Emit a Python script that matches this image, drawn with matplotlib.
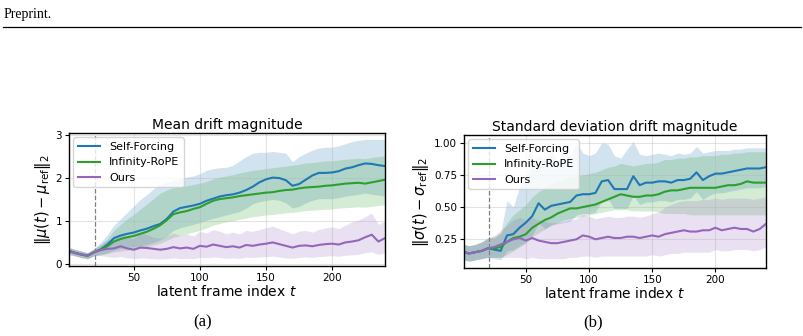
"""Mean / std drift magnitude over latent frames, two panels with caption letters."""
import numpy as np
import matplotlib
matplotlib.use("Agg")
import matplotlib.pyplot as plt
from matplotlib.lines import Line2D

# frame index samples
T = [1, 5, 10, 15, 20, 25, 30, 35, 40, 45, 50, 55, 60, 65, 70, 75, 80, 85, 90, 95,
     100, 105, 110, 115, 120, 125, 130, 135, 140, 145, 150, 155, 160, 165, 170, 175,
     180, 185, 190, 195, 200, 205, 210, 215, 220, 225, 230, 235, 240]
METHODS = ["Self-Forcing", "Infinity-RoPE", "Ours"]
COLORS = ["#1f77b4", "#2ca02c", "#9467bd"]

# panel (a): mean drift
mean_sf = [0.30, 0.26, 0.22, 0.19, 0.27, 0.34, 0.45, 0.60, 0.66, 0.70, 0.73, 0.78, 0.82, 0.88, 0.93, 1.05,
           1.22, 1.30, 1.33, 1.36, 1.40, 1.47, 1.52, 1.57, 1.60, 1.62, 1.66, 1.72, 1.80, 1.90, 1.97, 2.01,
           2.00, 1.95, 1.82, 1.86, 1.96, 2.06, 2.12, 2.12, 2.13, 2.16, 2.22, 2.25, 2.30, 2.34, 2.33, 2.30, 2.28]
mean_sf_hi = [0.38, 0.34, 0.30, 0.26, 0.36, 0.50, 0.68, 0.90, 1.05, 1.20, 1.35, 1.50, 1.62, 1.75, 1.85, 1.90,
              1.95, 1.98, 2.02, 2.05, 2.10, 2.18, 2.22, 2.24, 2.25, 2.30, 2.40, 2.50, 2.58, 2.60, 2.60, 2.62,
              2.60, 2.58, 2.38, 2.50, 2.58, 2.65, 2.70, 2.72, 2.72, 2.75, 2.80, 2.85, 2.88, 2.90, 2.90, 2.90, 2.90]
mean_sf_lo = [0.22, 0.19, 0.15, 0.12, 0.19, 0.22, 0.26, 0.32, 0.36, 0.38, 0.40, 0.42, 0.45, 0.50, 0.56, 0.65,
              0.78, 0.84, 0.88, 0.92, 0.96, 1.02, 1.06, 1.10, 1.14, 1.18, 1.22, 1.30, 1.40, 1.45, 1.48, 1.50,
              1.48, 1.42, 1.30, 1.34, 1.42, 1.48, 1.52, 1.52, 1.52, 1.54, 1.58, 1.60, 1.62, 1.65, 1.62, 1.60, 1.58]
mean_ir = [0.30, 0.26, 0.22, 0.19, 0.27, 0.33, 0.41, 0.52, 0.58, 0.62, 0.65, 0.70, 0.75, 0.82, 0.90, 1.02,
           1.16, 1.20, 1.23, 1.28, 1.32, 1.40, 1.47, 1.51, 1.53, 1.55, 1.58, 1.60, 1.62, 1.64, 1.66, 1.67,
           1.70, 1.72, 1.73, 1.76, 1.78, 1.79, 1.80, 1.82, 1.83, 1.85, 1.87, 1.88, 1.89, 1.87, 1.90, 1.93, 1.96]
mean_ir_hi = [0.38, 0.34, 0.30, 0.26, 0.35, 0.45, 0.58, 0.78, 0.92, 1.05, 1.15, 1.28, 1.40, 1.52, 1.65, 1.72,
              1.78, 1.80, 1.82, 1.85, 1.88, 1.92, 1.98, 2.02, 2.05, 2.08, 2.12, 2.15, 2.18, 2.20, 2.22, 2.24,
              2.26, 2.28, 2.30, 2.32, 2.35, 2.36, 2.38, 2.40, 2.40, 2.42, 2.44, 2.45, 2.46, 2.45, 2.48, 2.50, 2.52]
mean_ir_lo = [0.22, 0.19, 0.15, 0.12, 0.19, 0.21, 0.24, 0.28, 0.30, 0.32, 0.33, 0.36, 0.40, 0.44, 0.48, 0.55,
              0.62, 0.66, 0.70, 0.74, 0.78, 0.84, 0.90, 0.94, 0.98, 1.00, 1.04, 1.07, 1.10, 1.12, 1.14, 1.15,
              1.17, 1.19, 1.20, 1.22, 1.24, 1.25, 1.26, 1.27, 1.28, 1.30, 1.31, 1.32, 1.33, 1.32, 1.34, 1.36, 1.38]
mean_ours = [0.30, 0.26, 0.22, 0.19, 0.27, 0.32, 0.35, 0.36, 0.41, 0.36, 0.33, 0.38, 0.37, 0.35, 0.33, 0.35,
             0.39, 0.36, 0.38, 0.35, 0.42, 0.40, 0.45, 0.42, 0.39, 0.41, 0.38, 0.44, 0.42, 0.45, 0.47, 0.50,
             0.46, 0.42, 0.38, 0.42, 0.43, 0.41, 0.44, 0.46, 0.47, 0.45, 0.50, 0.52, 0.55, 0.62, 0.68, 0.52, 0.60]
mean_ours_hi = [0.38, 0.34, 0.30, 0.26, 0.35, 0.45, 0.55, 0.60, 0.70, 0.62, 0.58, 0.72, 0.68, 0.62, 0.60, 0.65,
                0.72, 0.66, 0.70, 0.65, 0.76, 0.72, 0.80, 0.76, 0.70, 0.74, 0.70, 0.78, 0.76, 0.80, 0.84, 0.88,
                0.82, 0.76, 0.70, 0.76, 0.78, 0.74, 0.80, 0.84, 0.86, 0.82, 0.90, 0.98, 1.02, 1.10, 1.18, 0.92, 1.00]
mean_ours_lo = [0.22, 0.19, 0.15, 0.12, 0.19, 0.19, 0.17, 0.15, 0.17, 0.14, 0.12, 0.14, 0.13, 0.12, 0.11, 0.12,
                0.14, 0.12, 0.13, 0.12, 0.15, 0.14, 0.16, 0.15, 0.13, 0.14, 0.13, 0.16, 0.15, 0.16, 0.17, 0.18,
                0.16, 0.14, 0.13, 0.15, 0.16, 0.15, 0.17, 0.18, 0.19, 0.18, 0.20, 0.21, 0.22, 0.26, 0.28, 0.22, 0.26]

# panel (b): std drift
std_sf = [0.15, 0.14, 0.15, 0.16, 0.18, 0.17, 0.16, 0.28, 0.29, 0.34, 0.38, 0.43, 0.53, 0.48, 0.51, 0.52,
          0.53, 0.54, 0.59, 0.60, 0.60, 0.61, 0.70, 0.71, 0.64, 0.64, 0.64, 0.74, 0.67, 0.69, 0.69, 0.70,
          0.70, 0.69, 0.71, 0.71, 0.72, 0.77, 0.71, 0.74, 0.76, 0.76, 0.77, 0.78, 0.79, 0.80, 0.80, 0.80, 0.81]
std_sf_hi = [0.21, 0.20, 0.21, 0.23, 0.26, 0.26, 0.30, 0.55, 0.50, 0.66, 0.74, 0.84, 0.90, 0.86, 0.95, 0.86,
             0.88, 0.90, 1.00, 0.92, 0.90, 0.92, 1.00, 0.99, 0.90, 0.88, 0.95, 1.01, 0.91, 0.90, 0.91, 0.92,
             0.91, 0.90, 0.92, 0.91, 0.92, 0.97, 0.92, 0.93, 0.94, 0.94, 0.94, 0.95, 0.95, 0.96, 0.96, 0.96, 0.96]
std_sf_lo = [0.09, 0.08, 0.09, 0.10, 0.11, 0.10, 0.09, 0.16, 0.17, 0.20, 0.23, 0.28, 0.38, 0.33, 0.36, 0.37,
             0.38, 0.39, 0.44, 0.45, 0.45, 0.46, 0.55, 0.56, 0.49, 0.49, 0.49, 0.59, 0.52, 0.54, 0.54, 0.55,
             0.55, 0.54, 0.56, 0.56, 0.57, 0.62, 0.56, 0.59, 0.61, 0.61, 0.62, 0.63, 0.64, 0.65, 0.65, 0.65, 0.66]
std_ir = [0.15, 0.14, 0.15, 0.16, 0.18, 0.18, 0.19, 0.23, 0.26, 0.27, 0.29, 0.34, 0.37, 0.40, 0.42, 0.45,
          0.47, 0.49, 0.49, 0.50, 0.51, 0.52, 0.54, 0.56, 0.58, 0.60, 0.59, 0.58, 0.58, 0.59, 0.59, 0.60,
          0.62, 0.63, 0.63, 0.64, 0.65, 0.65, 0.65, 0.65, 0.65, 0.66, 0.67, 0.67, 0.68, 0.70, 0.69, 0.69, 0.69]
std_ir_hi = [0.21, 0.20, 0.21, 0.23, 0.26, 0.27, 0.30, 0.38, 0.44, 0.48, 0.52, 0.58, 0.62, 0.65, 0.68, 0.70,
             0.72, 0.74, 0.74, 0.75, 0.76, 0.77, 0.79, 0.81, 0.82, 0.84, 0.83, 0.82, 0.83, 0.84, 0.84, 0.85,
             0.87, 0.87, 0.88, 0.88, 0.89, 0.89, 0.90, 0.90, 0.90, 0.91, 0.91, 0.92, 0.92, 0.93, 0.93, 0.93, 0.93]
std_ir_lo = [0.09, 0.08, 0.09, 0.10, 0.11, 0.11, 0.11, 0.13, 0.16, 0.19, 0.22, 0.27, 0.30, 0.33, 0.36, 0.38,
             0.40, 0.41, 0.42, 0.43, 0.44, 0.45, 0.46, 0.47, 0.48, 0.48, 0.48, 0.47, 0.47, 0.47, 0.47, 0.46,
             0.45, 0.45, 0.45, 0.45, 0.44, 0.44, 0.44, 0.44, 0.44, 0.44, 0.44, 0.44, 0.44, 0.44, 0.44, 0.44, 0.44]
std_ours = [0.15, 0.14, 0.15, 0.16, 0.18, 0.19, 0.21, 0.23, 0.25, 0.26, 0.24, 0.26, 0.24, 0.23, 0.22, 0.22,
            0.23, 0.24, 0.25, 0.28, 0.27, 0.25, 0.26, 0.27, 0.26, 0.26, 0.27, 0.27, 0.26, 0.27, 0.28, 0.27,
            0.29, 0.30, 0.31, 0.32, 0.31, 0.31, 0.32, 0.32, 0.34, 0.32, 0.33, 0.34, 0.33, 0.33, 0.31, 0.33, 0.37]
std_ours_hi = [0.21, 0.20, 0.21, 0.23, 0.26, 0.28, 0.32, 0.36, 0.40, 0.42, 0.40, 0.42, 0.40, 0.39, 0.38, 0.38,
               0.39, 0.40, 0.41, 0.44, 0.43, 0.41, 0.42, 0.43, 0.42, 0.42, 0.43, 0.43, 0.42, 0.43, 0.45, 0.46,
               0.50, 0.52, 0.54, 0.55, 0.55, 0.55, 0.56, 0.56, 0.57, 0.56, 0.57, 0.57, 0.57, 0.57, 0.56, 0.57, 0.58]
std_ours_lo = [0.09, 0.08, 0.09, 0.10, 0.11, 0.11, 0.11, 0.11, 0.11, 0.11, 0.10, 0.11, 0.10, 0.10, 0.10, 0.10,
               0.10, 0.11, 0.11, 0.12, 0.12, 0.11, 0.12, 0.12, 0.12, 0.12, 0.12, 0.12, 0.12, 0.12, 0.13, 0.12,
               0.13, 0.14, 0.14, 0.15, 0.15, 0.15, 0.15, 0.15, 0.17, 0.16, 0.16, 0.17, 0.17, 0.17, 0.16, 0.17, 0.19]

WARMUP_T = 21

fig = plt.figure(figsize=(8.04, 3.36), dpi=100)

fig.text(0.004, 1 - 18 / 336, "Preprint.", family="Liberation Serif", fontsize=10, va="baseline")
fig.add_artist(Line2D([0.004, 0.996], [1 - 27 / 336] * 2, color="black", lw=0.9))

panels = [
    dict(rect=[69 / 804, 70 / 336, 316 / 804, 133 / 336], title="Mean drift magnitude",
         ylabel=r"$\|\mu(t) - \mu_{\rm ref}\|_2$", ylim=(-0.05, 3.05), yticks=[0, 1, 2, 3],
         ytl=["0", "1", "2", "3"],
         series=[(mean_sf, mean_sf_lo, mean_sf_hi), (mean_ir, mean_ir_lo, mean_ir_hi),
                 (mean_ours, mean_ours_lo, mean_ours_hi)],
         caption="(a)", cap_x=203 / 804),
    dict(rect=[464 / 804, 68 / 336, 302 / 804, 133 / 336], title="Standard deviation drift magnitude",
         ylabel=r"$\|\sigma(t) - \sigma_{\rm ref}\|_2$", ylim=(0.027, 1.06), yticks=[0.25, 0.5, 0.75, 1.0],
         ytl=["0.25", "0.50", "0.75", "1.00"],
         series=[(std_sf, std_sf_lo, std_sf_hi), (std_ir, std_ir_lo, std_ir_hi),
                 (std_ours, std_ours_lo, std_ours_hi)],
         caption="(b)", cap_x=593 / 804),
]

for p in panels:
    ax = fig.add_axes(p["rect"])
    for name, color, (m, lo, hi) in zip(METHODS, COLORS, p["series"]):
        ax.fill_between(T, lo, hi, color=color, alpha=0.2, lw=0)
        ax.plot(T, m, color=color, lw=1.5, label=name)
    ax.axvline(WARMUP_T, color="gray", ls="--", lw=0.9)
    ax.set_xlim(1, 240)
    ax.set_ylim(*p["ylim"])
    ax.set_xticks([50, 100, 150, 200])
    ax.set_yticks(p["yticks"])
    ax.set_yticklabels(p["ytl"])
    ax.tick_params(labelsize=7.5, length=3, pad=2)
    ax.grid(True, color="#b0b0b0", alpha=0.35, lw=0.8)
    ax.set_title(p["title"], fontsize=10, pad=3)
    ax.set_xlabel(r"latent frame index $t$", fontsize=10, labelpad=1)
    ax.set_ylabel(p["ylabel"], fontsize=10.5, labelpad=2)
    ax.legend(loc="upper left", fontsize=8, borderaxespad=0.4)
    for s in ax.spines.values():
        s.set_linewidth(1.0)
    fig.text(p["cap_x"], 1 - 322 / 336, p["caption"], family="Liberation Serif", fontsize=12,
             ha="center", va="center")

fig.savefig("out.png", dpi=100)
